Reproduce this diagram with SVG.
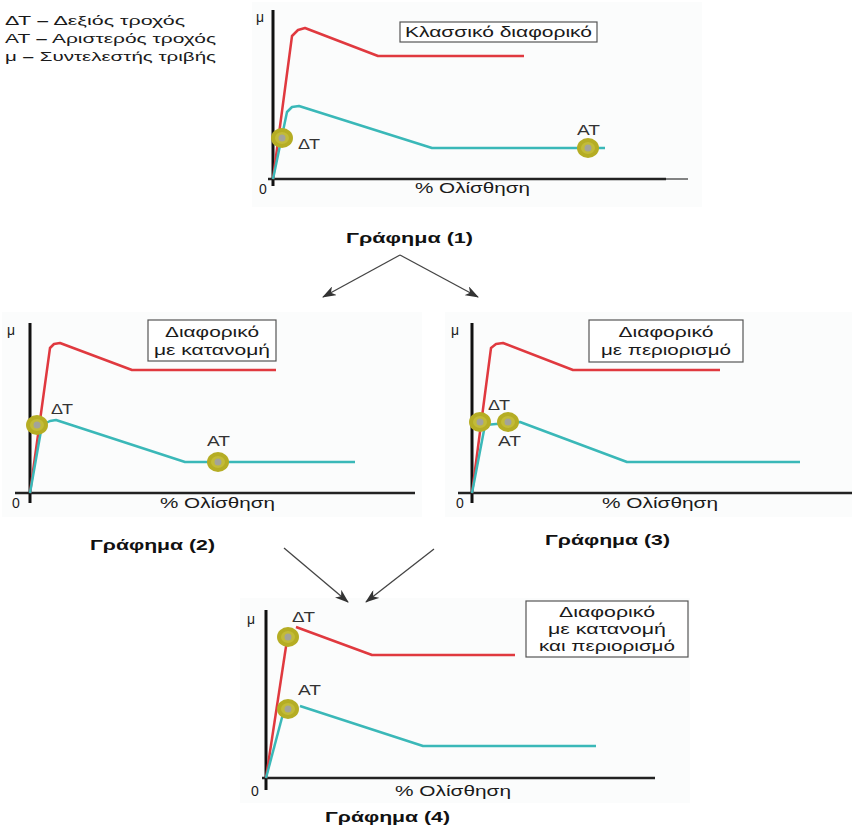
<svg xmlns="http://www.w3.org/2000/svg" width="852" height="831" viewBox="0 0 852 831">
<defs>
<style>
text{font-family:"Liberation Sans",Arial,sans-serif;fill:#1a1a1a}
.t{font-size:14px}
.lg{font-size:13px}
.dash{font-weight:bold}
.lb{font-size:14px;fill:#333}
.ti{font-size:15px;font-weight:bold;fill:#111}
.ax{stroke:#111;stroke-width:3;fill:none}
.axx{stroke:#222;stroke-width:2.5;fill:none}
.red{stroke:#e0393f;stroke-width:2.5;fill:none;stroke-linejoin:round}
.cy{stroke:#3ab8b8;stroke-width:2.5;fill:none;stroke-linejoin:round}
.box{fill:#fff;stroke:#555;stroke-width:1.2}
.panel{fill:#fbfcfc}
.arr{stroke:#444;stroke-width:1.3;fill:none;marker-end:url(#ah)}
</style>
<marker id="ah" viewBox="0 0 14 10" refX="13" refY="5" markerWidth="14" markerHeight="10" markerUnits="userSpaceOnUse" orient="auto">
<path d="M0,0 L14,5 L0,10 L4,5 Z" fill="#333"/>
</marker>
<g id="wheel">
<ellipse cx="0" cy="0" rx="11" ry="10" fill="#b5ad24"/>
<ellipse cx="0" cy="0" rx="7" ry="6" fill="#c2bb38"/>
<circle cx="0" cy="0" r="3.5" fill="#a3a39a"/>
</g>
</defs>
<rect width="852" height="831" fill="#fff"/>

<g id="legend">
<text class="lg" x="5" y="25" textLength="180" lengthAdjust="spacingAndGlyphs">ΔΤ <tspan class="dash">–</tspan> Δεξιός τροχός</text>
<text class="lg" x="5" y="43" textLength="211" lengthAdjust="spacingAndGlyphs">ΑΤ <tspan class="dash">–</tspan> Αριστερός τροχός</text>
<text class="lg" x="5" y="61" textLength="211" lengthAdjust="spacingAndGlyphs">μ <tspan class="dash">–</tspan> Συντελεστής τριβής</text>
</g>

<g id="graph1">
<rect class="panel" x="252" y="2" width="450" height="205"/>
<text class="t" x="256" y="22">μ</text>
<text class="t" x="259" y="194">0</text>
<line class="ax" x1="273" y1="10" x2="273" y2="186"/>
<line class="axx" x1="268" y1="179" x2="666" y2="179"/>
<line stroke="#333" stroke-width="1.2" x1="666" y1="179" x2="688" y2="179"/>
<polyline class="red" points="273,179 292,36 298,30 305,28 378,56 524,56"/>
<polyline class="cy" points="273,179 287,112 292,107 299,106 432,148 605,148"/>
<use href="#wheel" x="282" y="138"/>
<use href="#wheel" x="588" y="148"/>
<text class="lb" x="298" y="149" textLength="22" lengthAdjust="spacingAndGlyphs">ΔΤ</text>
<text class="lb" x="577" y="135" textLength="23" lengthAdjust="spacingAndGlyphs">ΑΤ</text>
<rect class="box" x="400" y="22" width="197" height="20"/>
<text class="t" x="405" y="37" textLength="187" lengthAdjust="spacingAndGlyphs">Κλασσικό διαφορικό</text>
<text class="t" x="415" y="193" textLength="115" lengthAdjust="spacingAndGlyphs">% Ολίσθηση</text>
<text class="ti" x="346" y="243" textLength="127" lengthAdjust="spacingAndGlyphs">Γράφημα (1)</text>
</g>

<g id="graph2">
<rect class="panel" x="2" y="312" width="420" height="205"/>
<text class="t" x="7" y="335">μ</text>
<text class="t" x="12" y="508">0</text>
<line class="ax" x1="30" y1="323" x2="30" y2="503"/>
<line class="axx" x1="15" y1="493" x2="415" y2="493"/>
<polyline class="red" points="30,493 50,348 54,344 60,343 132,370 276,370"/>
<polyline class="cy" points="30,493 42,425 50,421 56,420 185,462 355,462"/>
<use href="#wheel" x="37" y="425"/>
<use href="#wheel" x="218" y="462"/>
<text class="lb" x="51" y="414" textLength="22" lengthAdjust="spacingAndGlyphs">ΔΤ</text>
<text class="lb" x="207" y="446" textLength="23" lengthAdjust="spacingAndGlyphs">ΑΤ</text>
<rect class="box" x="148" y="320" width="128" height="41"/>
<text class="t" x="212" y="337" text-anchor="middle" textLength="94" lengthAdjust="spacingAndGlyphs">Διαφορικό</text>
<text class="t" x="212" y="355" text-anchor="middle" textLength="116" lengthAdjust="spacingAndGlyphs">με κατανομή</text>
<text class="t" x="160" y="508" textLength="115" lengthAdjust="spacingAndGlyphs">% Ολίσθηση</text>
<text class="ti" x="90" y="550" textLength="125" lengthAdjust="spacingAndGlyphs">Γράφημα (2)</text>
</g>

<g id="graph3">
<rect class="panel" x="445" y="312" width="407" height="205"/>
<text class="t" x="451" y="335">μ</text>
<text class="t" x="456" y="508">0</text>
<line class="ax" x1="472" y1="323" x2="472" y2="503"/>
<line class="axx" x1="458" y1="493" x2="852" y2="493"/>
<polyline class="red" points="472,493 491,348 496,344 503,343 573,370 720,370"/>
<polyline class="cy" points="472,493 485,425 520,422 627,462 800,462"/>
<use href="#wheel" x="480" y="422"/>
<use href="#wheel" x="508" y="422"/>
<text class="lb" x="488" y="410" textLength="22" lengthAdjust="spacingAndGlyphs">ΔΤ</text>
<text class="lb" x="498" y="446" textLength="23" lengthAdjust="spacingAndGlyphs">ΑΤ</text>
<rect class="box" x="589" y="320" width="154" height="42"/>
<text class="t" x="666" y="337" text-anchor="middle" textLength="95" lengthAdjust="spacingAndGlyphs">Διαφορικό</text>
<text class="t" x="666" y="355" text-anchor="middle" textLength="130" lengthAdjust="spacingAndGlyphs">με περιορισμό</text>
<text class="t" x="602" y="508" textLength="116" lengthAdjust="spacingAndGlyphs">% Ολίσθηση</text>
<text class="ti" x="545" y="545" textLength="125" lengthAdjust="spacingAndGlyphs">Γράφημα (3)</text>
</g>

<g id="graph4">
<rect class="panel" x="240" y="598" width="450" height="205"/>
<text class="t" x="247" y="624">μ</text>
<text class="t" x="251" y="796">0</text>
<line class="ax" x1="266" y1="610" x2="266" y2="790"/>
<line class="axx" x1="262" y1="778" x2="655" y2="778"/>
<polyline class="red" points="266,778 287,640"/>
<polyline class="red" points="296,627 372,655 515,655"/>
<polyline class="cy" points="266,778 284,710"/>
<polyline class="cy" points="300,706 423,746 596,746"/>
<use href="#wheel" x="288" y="637"/>
<use href="#wheel" x="288" y="709"/>
<text class="lb" x="292" y="622" textLength="23" lengthAdjust="spacingAndGlyphs">ΔΤ</text>
<text class="lb" x="298" y="695" textLength="23" lengthAdjust="spacingAndGlyphs">ΑΤ</text>
<rect class="box" x="526" y="601" width="162" height="56"/>
<text class="t" x="607" y="617" text-anchor="middle" textLength="96" lengthAdjust="spacingAndGlyphs">Διαφορικό</text>
<text class="t" x="607" y="634" text-anchor="middle" textLength="118" lengthAdjust="spacingAndGlyphs">με κατανομή</text>
<text class="t" x="607" y="651" text-anchor="middle" textLength="136" lengthAdjust="spacingAndGlyphs">και περιορισμό</text>
<text class="t" x="395" y="796" textLength="116" lengthAdjust="spacingAndGlyphs">% Ολίσθηση</text>
<text class="ti" x="325" y="822" textLength="125" lengthAdjust="spacingAndGlyphs">Γράφημα (4)</text>
</g>

<g id="connectors">
<polyline class="arr" points="400,255 323,297"/>
<polyline class="arr" points="400,255 478,297"/>
<line class="arr" x1="284" y1="548" x2="348" y2="602"/>
<line class="arr" x1="434" y1="549" x2="366" y2="602"/>
</g>
</svg>
